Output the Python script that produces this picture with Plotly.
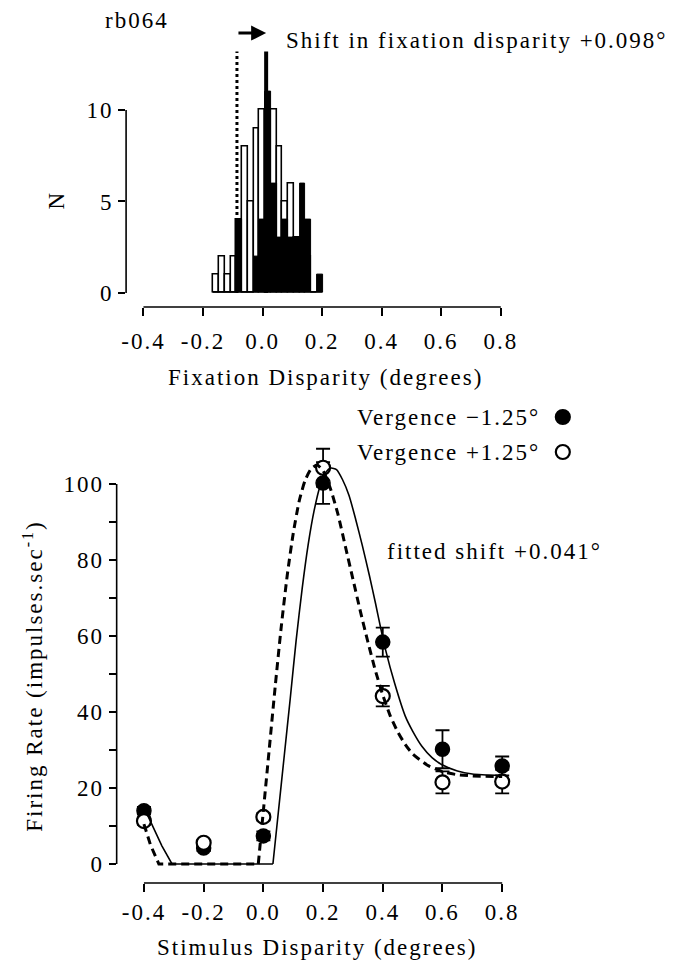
import plotly.graph_objects as go

W, H = 673, 961
FONT = "Liberation Serif"
SPACING = 2  # px of extra tracking applied to all labels

# ---- top panel: fixation disparity histogram ----
bin_centers = [-0.155, -0.136, -0.117, -0.097, -0.078, -0.059, -0.039, -0.020, -0.001,
               0.018, 0.038, 0.057, 0.076, 0.096, 0.115, 0.134, 0.154, 0.173, 0.192]
counts_open = [1, 2, 1, 2, 4, 8, 5, 9, 10, 10, 10, 8, 5, 6, 3, 3, 2, 0, 0]
counts_filled = [0, 0, 0, 0, 4, 0, 0, 2, 4, 11, 6, 3, 4, 3, 3, 6, 4, 0, 1]
bin_width = 0.0193
mean_open = -0.086      # dotted line
mean_filled = 0.012     # solid line
mean_line_top = 13.2
arrow_level = 14.2

hist_xticks = [-0.4, -0.2, 0.0, 0.2, 0.4, 0.6, 0.8]
hist_xticktext = ["-0.4", "-0.2", "0.0", "0.2", "0.4", "0.6", "0.8"]
hist_yticks = [0, 5, 10]
hist_yticktext = ["0", "5", "10"]

# ---- bottom panel: disparity tuning ----
stim_x = [-0.4, -0.2, 0.0, 0.2, 0.4, 0.6, 0.8]
rate_neg = [14.0, 4.2, 7.4, 100.3, 58.4, 30.2, 25.8]      # vergence -1.25 (filled)
err_neg = [1.0, 0.8, 1.2, 5.5, 3.8, 5.0, 2.5]
rate_pos = [11.3, 5.6, 12.4, 104.3, 44.2, 21.5, 21.7]     # vergence +1.25 (open)
err_pos = [1.0, 0.8, 1.0, 5.0, 2.7, 2.9, 3.1]

# fitted curves (solid: vergence -1.25, dashed: vergence +1.25);
# the "clip" points are the part held at zero, the "peak" points the smooth bump
fit_neg_clip_x = [-0.4, -0.37, -0.34, -0.306, 0.032]
fit_neg_clip_y = [14.9, 10.0, 4.8, 0.0, 0.0]
fit_neg_peak_x = [0.032, 0.05, 0.07, 0.09, 0.11, 0.13, 0.15, 0.17, 0.19, 0.21, 0.226,
                  0.245, 0.265, 0.287, 0.31, 0.331, 0.355, 0.376, 0.392, 0.409, 0.44,
                  0.475, 0.5, 0.531, 0.565, 0.597, 0.65, 0.7, 0.8]
fit_neg_peak_y = [0.0, 13.5, 28.5, 43.5, 59.0, 72.5, 84.0, 93.0, 99.5, 103.2, 104.2,
                  103.8, 101.2, 97.0, 90.5, 84.0, 76.0, 68.5, 62.5, 56.5, 47.5,
                  39.0, 35.0, 31.0, 28.0, 26.2, 24.5, 23.7, 23.3]
fit_pos_clip_x = [-0.4, -0.378, -0.35, -0.017]
fit_pos_clip_y = [10.5, 5.0, 0.0, 0.0]
fit_pos_peak_x = [-0.017, 0.0, 0.02, 0.04, 0.06, 0.08, 0.1, 0.12, 0.14, 0.16, 0.18, 0.2,
                  0.226, 0.25, 0.275, 0.3, 0.325, 0.35, 0.375, 0.4, 0.425, 0.45, 0.475,
                  0.5, 0.55, 0.6, 0.65, 0.7, 0.8]
fit_pos_peak_y = [0.0, 14.0, 30.5, 47.0, 62.5, 76.0, 87.0, 95.5, 101.0, 104.0, 105.0, 103.5,
                  98.5, 92.0, 83.5, 75.0, 66.5, 58.5, 51.0, 44.5, 39.0, 34.8, 31.5,
                  29.0, 26.0, 24.3, 23.5, 23.2, 23.0]

rate_yticks = [0, 20, 40, 60, 80, 100]
rate_yticktext = ["0", "20", "40", "60", "80", "100"]
rate_minor_ticks = [10, 30, 50, 70, 90]


def px(x):
    return x / W


def py(y):
    return 1 - y / H


def tracked(s):
    return f'<span style="letter-spacing:{SPACING}px">{s}</span>'


fig = go.Figure()

# histogram: open bars first, filled bars drawn over them
fig.add_trace(go.Bar(x=bin_centers, y=counts_open, width=bin_width,
                     marker=dict(color="white", line=dict(color="black", width=1.6)),
                     xaxis="x", yaxis="y", showlegend=False))
fig.add_trace(go.Bar(x=bin_centers, y=counts_filled, width=bin_width,
                     marker=dict(color="black", line=dict(color="black", width=1.0)),
                     xaxis="x", yaxis="y", showlegend=False))
fig.add_trace(go.Scatter(x=[mean_open, mean_open], y=[0, mean_line_top], mode="lines",
                         line=dict(color="black", width=3, dash="dot"),
                         xaxis="x", yaxis="y", showlegend=False))
fig.add_trace(go.Scatter(x=[mean_filled, mean_filled], y=[0, mean_line_top], mode="lines",
                         line=dict(color="black", width=4),
                         xaxis="x", yaxis="y", showlegend=False))

# tuning data points with SEM bars
fig.add_trace(go.Scatter(x=stim_x, y=rate_neg, mode="markers",
                         marker=dict(symbol="circle", size=14, color="black",
                                     line=dict(color="black", width=1.5)),
                         error_y=dict(type="data", array=err_neg, color="black",
                                      thickness=1.8, width=7),
                         xaxis="x2", yaxis="y2", cliponaxis=False, showlegend=False))
fig.add_trace(go.Scatter(x=stim_x, y=rate_pos, mode="markers",
                         marker=dict(symbol="circle", size=14, color="white",
                                     line=dict(color="black", width=2.2)),
                         error_y=dict(type="data", array=err_pos, color="black",
                                      thickness=1.8, width=7),
                         xaxis="x2", yaxis="y2", cliponaxis=False, showlegend=False))

# fitted curves, drawn over the markers
fig.add_trace(go.Scatter(x=fit_neg_clip_x, y=fit_neg_clip_y, mode="lines",
                         line=dict(color="black", width=1.6),
                         xaxis="x2", yaxis="y2", showlegend=False))
fig.add_trace(go.Scatter(x=fit_neg_peak_x, y=fit_neg_peak_y, mode="lines",
                         line=dict(color="black", width=1.6, shape="spline", smoothing=0.6),
                         xaxis="x2", yaxis="y2", showlegend=False))
fig.add_trace(go.Scatter(x=fit_pos_clip_x, y=fit_pos_clip_y, mode="lines",
                         line=dict(color="black", width=3, dash="8px,5px"),
                         xaxis="x2", yaxis="y2", showlegend=False))
fig.add_trace(go.Scatter(x=fit_pos_peak_x, y=fit_pos_peak_y, mode="lines",
                         line=dict(color="black", width=3, dash="8px,5px",
                                   shape="spline", smoothing=0.6),
                         xaxis="x2", yaxis="y2", showlegend=False))

tickfont = dict(family=FONT, size=23, color="black")
common_x = dict(showgrid=False, zeroline=False, showline=False, ticks="outside",
                ticklen=8, tickwidth=1.5, tickcolor="black", tickfont=tickfont)
common_y = dict(showgrid=False, zeroline=False, showline=False, ticks="outside",
                ticklen=7, tickwidth=1.5, tickcolor="black", tickfont=tickfont)

fig.update_layout(
    width=W, height=H,
    margin=dict(l=0, r=0, t=0, b=0),
    paper_bgcolor="white", plot_bgcolor="white",
    barmode="overlay", bargap=0,
    font=dict(family=FONT, color="black"),
    xaxis=dict(common_x, domain=[px(122), px(540)], range=[-0.4583, 0.935],
               tickvals=hist_xticks, ticktext=[tracked(t) for t in hist_xticktext],
               ticklabelstandoff=5, anchor="y"),
    yaxis=dict(common_y, domain=[py(307), py(27.6)], range=[-0.765, 14.5],
               tickvals=hist_yticks, ticktext=[tracked(t) for t in hist_yticktext],
               anchor="x"),
    xaxis2=dict(common_x, domain=[px(112.5), px(540)], range=[-0.4914, 0.93],
                tickvals=hist_xticks, ticktext=[tracked(t) for t in hist_xticktext],
                anchor="y2"),
    yaxis2=dict(common_y, domain=[py(883), py(440)], range=[-5.0, 111.6],
                tickvals=rate_yticks, ticktext=[tracked(t) for t in rate_yticktext],
                anchor="x2",
                minor=dict(tickmode="array", tickvals=rate_minor_ticks, ticks="outside",
                           ticklen=7, tickwidth=1.5, tickcolor="black", showgrid=False)),
)

axis_line = dict(color="black", width=1.6)
fig.add_shape(type="line", xref="x", yref="y domain", x0=-0.4, x1=0.8, y0=0, y1=0,
              line=axis_line)
fig.add_shape(type="line", xref="x domain", yref="y", x0=0, x1=0, y0=0, y1=10,
              line=axis_line)
fig.add_shape(type="line", xref="x2", yref="y2 domain", x0=-0.4, x1=0.8, y0=0, y1=0,
              line=axis_line)
fig.add_shape(type="line", xref="x2 domain", yref="y2", x0=0, x1=0, y0=0, y1=100,
              line=axis_line)

# legend symbols
for yy, fill in [(417, "black"), (452, "white")]:
    fig.add_shape(type="circle", xref="paper", yref="paper",
                  xsizemode="pixel", ysizemode="pixel",
                  xanchor=px(562), yanchor=py(yy), x0=-7, x1=7, y0=-7, y1=7,
                  fillcolor=fill, line=dict(color="black", width=2.2))

# shift arrow from one mean to the other
fig.add_annotation(x=mean_filled, y=arrow_level, ax=mean_open, ay=arrow_level,
                   xref="x", yref="y", axref="x", ayref="y", text="",
                   showarrow=True, arrowhead=2, arrowsize=1.0, arrowwidth=3,
                   arrowcolor="black")

txt = dict(family=FONT, size=23, color="black")
ann = [
    dict(text="rb064", x=px(133), y=py(20)),
    dict(text="Shift in fixation disparity +0.098°", x=px(281), y=py(40), xanchor="left"),
    dict(text="Fixation Disparity (degrees)", x=px(323), y=py(378)),
    dict(text="N", x=px(51), y=py(200), textangle=-90),
    dict(text="Vergence \u22121.25°", x=px(541), y=py(417), xanchor="right"),
    dict(text="Vergence +1.25°", x=px(541), y=py(452), xanchor="right"),
    dict(text="fitted shift +0.041°", x=px(383), y=py(551), xanchor="left"),
    dict(text="Firing Rate (impulses.sec<sup>-1</sup>)", x=px(28), y=py(676), textangle=-90),
    dict(text="Stimulus Disparity (degrees)", x=px(314.5), y=py(947)),
]
for a in ann:
    a.setdefault("xanchor", "center")
    a["text"] = tracked(a["text"])
    fig.add_annotation(xref="paper", yref="paper", showarrow=False, yanchor="middle",
                       font=txt, **a)

fig.write_html("out.html")
